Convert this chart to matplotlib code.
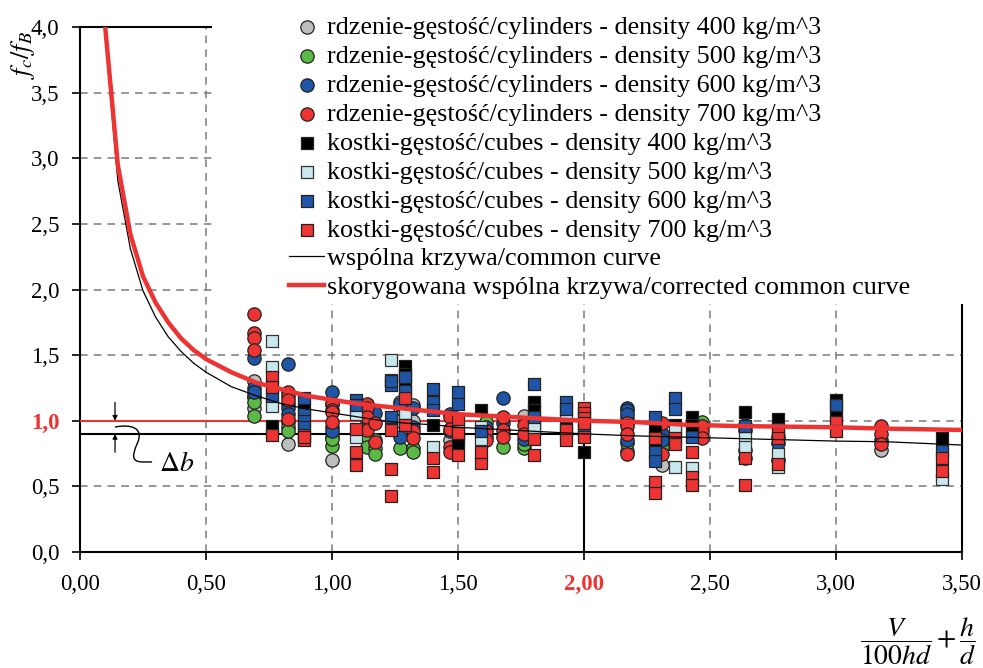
import numpy as np
import matplotlib
matplotlib.use("Agg")
import matplotlib.pyplot as plt
from matplotlib.patches import Rectangle, PathPatch
from matplotlib.path import Path

plt.rcParams['font.family'] = ['Liberation Serif', 'DejaVu Serif']
plt.rcParams['mathtext.fontset'] = 'stix'

# ---------------- data ----------------
xticks = [0.0, 0.5, 1.0, 1.5, 2.0, 2.5, 3.0, 3.5]
xticklabels = ['0,00', '0,50', '1,00', '1,50', '2,00', '2,50', '3,00', '3,50']
yticks = [0.0, 0.5, 1.0, 1.5, 2.0, 2.5, 3.0, 3.5, 4.0]
yticklabels = ['0,0', '0,5', '1,0', '1,5', '2,0', '2,5', '3,0', '3,5', '4,0']

cyl400_x = [0.69, 0.69, 0.69, 0.825, 0.825, 1.0, 1.0, 1.14, 1.17, 1.27, 1.27, 1.27, 1.32, 1.32,
            1.47, 1.61, 1.76, 2.17, 2.17, 2.31, 2.64, 2.77, 3.18]
cyl400_y = [1.30, 1.10, 1.18, 0.82, 0.99, 0.70, 0.88, 1.00, 0.85, 1.14, 1.10, 1.00, 1.12, 1.00,
            0.85, 0.88, 1.04, 1.02, 0.77, 0.66, 0.72, 0.70, 0.78]

cyl500_x = [0.69, 0.69, 0.69, 0.825, 0.825, 1.0, 1.0, 1.14, 1.14, 1.17, 1.17, 1.27, 1.32, 1.32,
            1.61, 1.68, 1.76, 1.76, 2.17, 2.31, 2.47, 2.64]
cyl500_y = [1.19, 1.14, 1.04, 0.95, 0.92, 0.81, 0.86, 0.88, 0.80, 0.79, 0.75, 0.79, 0.79, 0.76,
            0.99, 0.80, 0.79, 0.82, 0.83, 0.80, 0.99, 0.78]

cyl600_x = [0.69, 0.69, 0.69, 0.825, 0.825, 0.825, 0.825, 1.0, 1.0, 1.0, 1.0, 1.14, 1.14, 1.17,
            1.27, 1.27, 1.32, 1.32, 1.47, 1.47, 1.61, 1.68, 1.68, 1.76, 2.17, 2.17, 2.17, 2.17,
            2.31, 2.31, 2.64, 2.77, 3.18]
cyl600_y = [1.48, 1.25, 1.22, 1.43, 1.13, 1.10, 1.05, 1.22, 1.13, 0.95, 0.92, 1.12, 0.95, 1.06,
            1.13, 0.88, 1.10, 0.95, 1.05, 0.92, 0.95, 1.17, 0.98, 0.86, 1.10, 1.08, 1.05, 0.85,
            0.90, 0.85, 0.97, 0.83, 0.85]

cyl700_x = [0.69, 0.69, 0.69, 0.69, 0.825, 0.825, 0.825, 0.825, 1.0, 1.0, 1.0, 1.0,
            1.14, 1.14, 1.14, 1.14, 1.17, 1.17, 1.32, 1.32, 1.47, 1.47, 1.47, 1.47,
            1.61, 1.61, 1.68, 1.68, 1.68, 1.76, 1.76, 2.17, 2.17, 2.17, 2.17, 2.31, 2.31,
            2.47, 2.47, 2.47, 2.64, 2.77, 3.18, 3.18, 3.18]
cyl700_y = [1.81, 1.67, 1.63, 1.54, 1.22, 1.19, 1.16, 1.01, 1.13, 1.08, 1.07, 0.99,
            1.13, 1.10, 1.03, 0.93, 0.98, 0.84, 0.92, 0.87, 1.03, 0.94, 0.80, 0.76,
            0.92, 0.85, 1.03, 0.93, 0.88, 0.97, 0.90, 0.98, 0.96, 0.90, 0.75, 0.98, 0.75,
            0.96, 0.92, 0.87, 0.93, 0.88, 0.96, 0.90, 0.82]

cube400_x = [0.76, 0.89, 1.29, 1.29, 1.29, 1.40, 1.50, 1.50, 1.59, 1.80, 1.80, 1.93, 2.0,
             2.28, 2.28, 2.36, 2.43, 2.43, 2.64, 2.77, 3.0, 3.0, 3.42]
cube400_y = [0.96, 1.09, 1.42, 1.36, 1.27, 0.97, 0.87, 0.82, 1.08, 1.14, 1.08, 0.96, 0.76,
             0.95, 0.84, 0.97, 1.03, 0.97, 1.07, 1.01, 1.16, 1.06, 0.87]

cube500_x = [0.76, 0.76, 0.76, 1.095, 1.095, 1.235, 1.235, 1.29, 1.40, 1.50, 1.59, 1.59,
             1.80, 1.80, 1.80, 1.93, 2.36, 2.36, 2.43, 2.64, 2.64, 2.77, 2.77, 3.42]
cube500_y = [1.61, 1.41, 1.11, 1.05, 0.88, 1.46, 1.31, 1.06, 0.80, 0.94, 0.95, 0.86,
             0.98, 0.93, 0.95, 1.04, 0.93, 0.65, 0.64, 0.87, 0.80, 0.75, 0.65, 0.56]

cube600_x = [0.76, 0.89, 0.89, 0.89, 0.89, 1.095, 1.095, 1.235, 1.235, 1.235, 1.29, 1.29,
             1.40, 1.40, 1.40, 1.50, 1.50, 1.59, 1.80, 1.80, 1.93, 1.93, 2.0, 2.28, 2.28, 2.28,
             2.36, 2.36, 2.43, 2.64, 2.77, 3.0, 3.42]
cube600_y = [1.19, 1.17, 1.05, 1.00, 0.95, 1.16, 1.12, 1.27, 1.30, 1.03, 1.33, 1.23,
             1.24, 1.14, 1.08, 1.22, 1.13, 0.92, 1.28, 1.03, 1.14, 1.09, 0.93, 1.03, 0.76, 0.69,
             1.17, 1.09, 0.88, 0.96, 0.94, 1.12, 0.77]

cube700_x = [0.76, 0.76, 0.76, 0.89, 0.89, 0.89, 1.095, 1.095, 1.095, 1.235, 1.235, 1.235,
             1.29, 1.29, 1.40, 1.40, 1.50, 1.50, 1.50, 1.59, 1.59, 1.80, 1.80, 1.93, 1.93,
             2.0, 2.0, 2.0, 2.0, 2.0, 2.28, 2.28, 2.28, 2.36, 2.36, 2.43, 2.43, 2.43,
             2.64, 2.64, 2.77, 2.77, 2.77, 3.0, 3.0, 3.42, 3.42]
cube700_y = [1.33, 1.26, 0.89, 0.89, 0.85, 0.88, 0.94, 0.76, 0.66, 0.93, 0.63, 0.43,
             1.17, 0.97, 0.72, 0.61, 1.01, 0.91, 0.74, 0.68, 0.76, 0.86, 0.74, 0.93, 0.85,
             1.10, 1.06, 1.02, 0.98, 0.88, 0.87, 0.53, 0.45, 0.87, 0.82, 0.76, 0.57, 0.51,
             0.72, 0.51, 0.90, 0.87, 0.67, 0.99, 0.92, 0.72, 0.62]

common_x = [0.097, 0.15, 0.20, 0.25, 0.30, 0.35, 0.40, 0.45, 0.50, 0.60, 0.70, 0.80, 0.90, 1.00,
            1.10, 1.20, 1.30, 1.40, 1.50, 1.60, 1.70, 1.80, 1.90, 2.00, 2.20, 2.40, 2.60, 2.80,
            3.00, 3.20, 3.50]
common_y = [4.00, 2.83, 2.31, 1.99, 1.79, 1.64, 1.53, 1.44, 1.37, 1.26, 1.19, 1.13, 1.09, 1.06,
            1.03, 1.00, 0.98, 0.97, 0.95, 0.94, 0.93, 0.92, 0.91, 0.90, 0.885, 0.875, 0.865, 0.855,
            0.845, 0.84, 0.815]

corr_x = [0.10, 0.15, 0.20, 0.25, 0.30, 0.35, 0.40, 0.45, 0.50, 0.60, 0.70, 0.80, 0.90, 1.00,
          1.10, 1.20, 1.30, 1.40, 1.50, 1.60, 1.70, 1.80, 1.90, 2.00, 2.20, 2.40, 2.60, 2.80,
          3.00, 3.20, 3.50]
corr_y = [4.00, 2.95, 2.42, 2.10, 1.90, 1.75, 1.63, 1.54, 1.47, 1.37, 1.29, 1.24, 1.19, 1.16,
          1.13, 1.11, 1.09, 1.07, 1.05, 1.04, 1.03, 1.02, 1.01, 1.00, 0.99, 0.97, 0.96, 0.955,
          0.95, 0.94, 0.93]

ref_level = 1.0      # red reference level
base_level = 0.9     # common-curve level at x = 2.0
ref_x = 2.0

labels = ['rdzenie-gęstość/cylinders - density 400 kg/m^3',
          'rdzenie-gęstość/cylinders - density 500 kg/m^3',
          'rdzenie-gęstość/cylinders - density 600 kg/m^3',
          'rdzenie-gęstość/cylinders - density 700 kg/m^3',
          'kostki-gęstość/cubes - density 400 kg/m^3',
          'kostki-gęstość/cubes - density 500 kg/m^3',
          'kostki-gęstość/cubes - density 600 kg/m^3',
          'kostki-gęstość/cubes - density 700 kg/m^3',
          'wspólna krzywa/common curve',
          'skorygowana wspólna krzywa/corrected common curve']

# ---------------- figure ----------------
W, H = 983, 668
fig = plt.figure(figsize=(W / 100, H / 100), dpi=100)
L, R, B, T = 80, 962, 552, 27
ax = fig.add_axes([L / W, 1 - B / H, (R - L) / W, (B - T) / H])
ax.set_xlim(0, 3.5)
ax.set_ylim(0, 4.0)

ax.set_axisbelow(True)
ax.grid(True, ls=(0, (5, 4)), color='#7a7a7a', lw=1.1)

RED = '#EE3333'
GRAY = '#BDBDBD'
GREEN = '#5BB947'
BLUE = '#1F55A6'
LBLUE = '#C8E8EE'

s_c = 92
s_s = 84
h = []
h.append(ax.scatter(cyl400_x, cyl400_y, s=s_c, marker='o', c=GRAY, edgecolors='#222222', linewidths=0.9, zorder=3))
h.append(ax.scatter(cyl500_x, cyl500_y, s=s_c, marker='o', c=GREEN, edgecolors='#222222', linewidths=0.9, zorder=3))
h.append(ax.scatter(cyl600_x, cyl600_y, s=s_c, marker='o', c=BLUE, edgecolors='#222222', linewidths=0.9, zorder=3))
h.append(ax.scatter(cyl700_x, cyl700_y, s=s_c, marker='o', c=RED, edgecolors='#222222', linewidths=0.9, zorder=3))
h.append(ax.scatter(cube400_x, cube400_y, s=s_s, marker='s', c='black', edgecolors='#222222', linewidths=0.9, zorder=3))
h.append(ax.scatter(cube500_x, cube500_y, s=s_s, marker='s', c=LBLUE, edgecolors='#333333', linewidths=0.9, zorder=3))
h.append(ax.scatter(cube600_x, cube600_y, s=s_s, marker='s', c=BLUE, edgecolors='#222222', linewidths=0.9, zorder=3))
h.append(ax.scatter(cube700_x, cube700_y, s=s_s, marker='s', c=RED, edgecolors='#222222', linewidths=0.9, zorder=3))

# reference lines
ax.plot([0, ref_x], [ref_level, ref_level], color=RED, lw=1.5, zorder=2.8)
ax.plot([0, ref_x], [base_level, base_level], color='black', lw=1.5, zorder=2.8)
ax.plot([ref_x, ref_x], [0, base_level], color='black', lw=1.5, zorder=2.8)

l1, = ax.plot(common_x, common_y, color='black', lw=0.9, zorder=3.5)
l2, = ax.plot(corr_x, corr_y, color=RED, lw=3.2, zorder=3.6, solid_joinstyle='round')
h += [l1, l2]

# delta b annotation
ax.annotate('', xy=(0.139, ref_level), xytext=(0.139, 1.14),
            arrowprops=dict(arrowstyle='-|>', color='black', lw=0.9, mutation_scale=7, shrinkA=0, shrinkB=0))
ax.annotate('', xy=(0.139, base_level), xytext=(0.139, 0.76),
            arrowprops=dict(arrowstyle='-|>', color='black', lw=0.9, mutation_scale=7, shrinkA=0, shrinkB=0))
verts = [(0.139, 0.952), (0.20, 0.975), (0.255, 0.95), (0.228, 0.83),
         (0.205, 0.73), (0.205, 0.686), (0.25, 0.686), (0.286, 0.686)]
codes = [Path.MOVETO, Path.CURVE4, Path.CURVE4, Path.CURVE4,
         Path.CURVE4, Path.CURVE4, Path.CURVE4, Path.LINETO]
ax.add_patch(PathPatch(Path(verts, codes), fc='none', ec='black', lw=1.0, zorder=3))
ax.text(0.313, 0.663, r'$\Delta b$', fontsize=20, ha='left', va='center')

# spines / ticks
for sp in ['left', 'bottom', 'right', 'top']:
    ax.spines[sp].set_linewidth(1.5)
    ax.spines[sp].set_color('black')
ax.set_xticks(xticks)
ax.set_xticklabels(xticklabels)
ax.set_yticks(yticks)
ax.set_yticklabels(yticklabels)
ax.tick_params(axis='both', direction='out', length=6, width=1.2, labelsize=16.5)
ax.tick_params(axis='x', pad=10)
ax.tick_params(axis='y', pad=9)
for t in ax.get_xticklabels():
    if t.get_text() == '2,00':
        t.set_color(RED)
        t.set_fontweight('bold')
for t in ax.get_yticklabels():
    if t.get_text() == '1,0':
        t.set_color(RED)
        t.set_fontweight('bold')

# white area behind the legend
ax.add_patch(Rectangle(((212 - L) / (R - L), (B - 304) / (B - T)), 1.2, 1.0,
                       transform=ax.transAxes, fc='white', ec='none', clip_on=False, zorder=2.7))

leg = ax.legend(h, labels, loc='upper left', bbox_to_anchor=(289 / W, 1 - 16 / H),
                bbox_transform=fig.transFigure, frameon=False, fontsize=18.8,
                borderpad=0, borderaxespad=0, handlelength=1.35, handletextpad=0.1,
                labelspacing=0.215, scatterpoints=1)
leg.set_zorder(6)

# axis labels
fig.text(23 / W, 1 - 55 / H, r'$f_c/f_B$', rotation=90, fontsize=19, ha='center', va='center')
fig.text(918 / W, 1 - 641 / H, r'$\dfrac{V}{100hd}+\dfrac{h}{d}$', fontsize=20, ha='center', va='center')

fig.savefig('out.png', dpi=100)
